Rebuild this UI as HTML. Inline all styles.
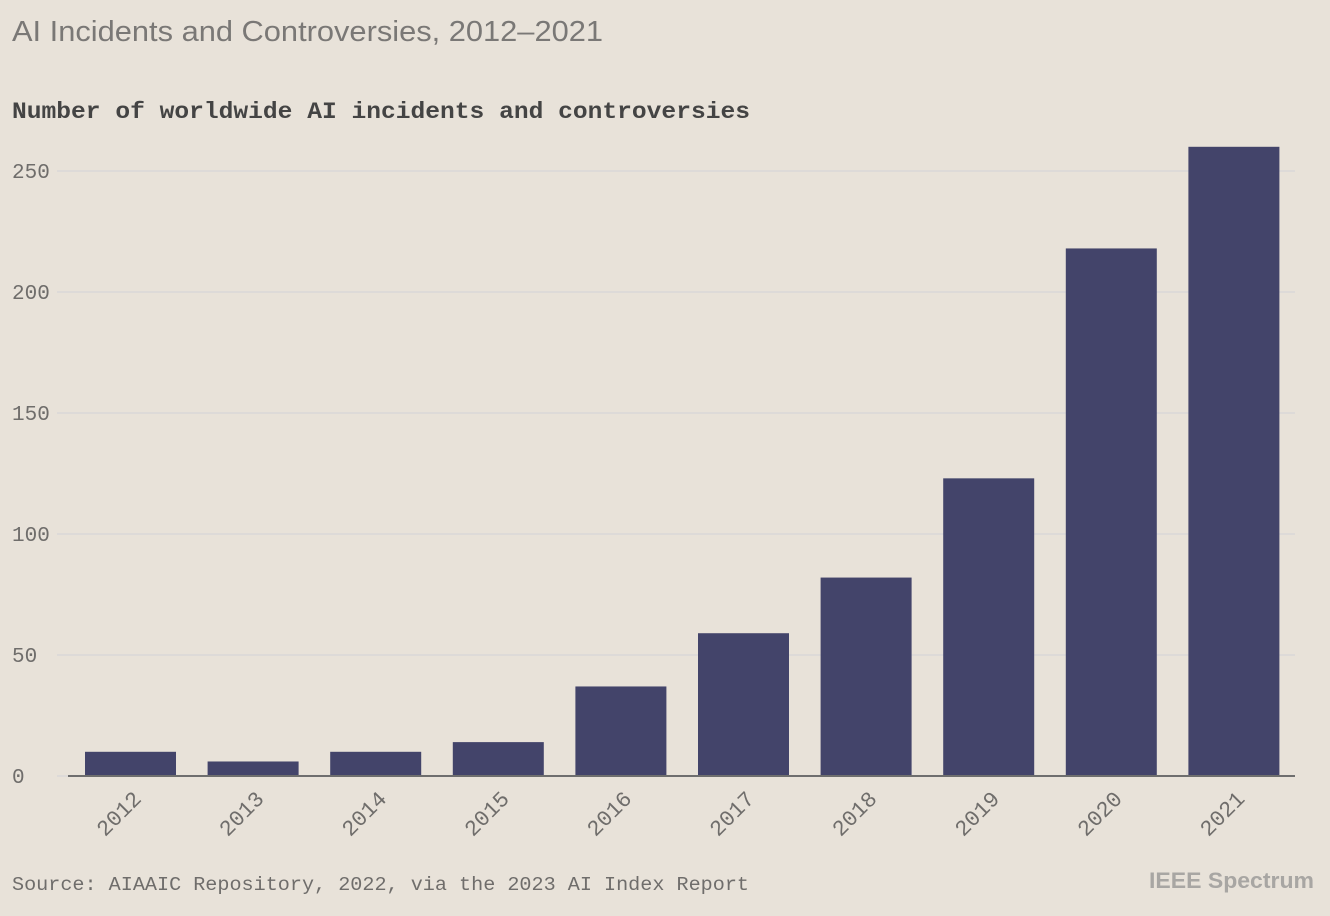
<!DOCTYPE html>
<html><head><meta charset="utf-8">
<style>
html,body{margin:0;padding:0;background:#e8e2d9;}
svg{display:block;}
</style></head>
<body>
<svg id="chart" width="1330" height="916" xmlns="http://www.w3.org/2000/svg">
<rect width="1330" height="916" fill="#e8e2d9"/>
<text x="12" y="41" font-family="Liberation Sans, sans-serif" font-size="29" fill="#7a7876" textLength="591" lengthAdjust="spacingAndGlyphs">AI Incidents and Controversies, 2012–2021</text>
<text x="12" y="118" font-family="Liberation Mono, monospace" font-weight="bold" font-size="23" fill="#444" textLength="738" lengthAdjust="spacingAndGlyphs">Number of worldwide AI incidents and controversies</text>
<g id="grid"></g>
<g id="bars"></g>
<g id="xlabels"></g>
<line x1="68" x2="1295" y1="776" y2="776" stroke="#6e6e6e" stroke-width="2"/>
<text x="12" y="890" font-family="Liberation Mono, monospace" font-size="19.5" fill="#6f6d6b" textLength="737" lengthAdjust="spacingAndGlyphs">Source: AIAAIC Repository, 2022, via the 2023 AI Index Report</text>
<text x="1149" y="888" font-family="Liberation Sans, sans-serif" font-weight="bold" font-size="22" fill="#a8a6a3" textLength="165" lengthAdjust="spacingAndGlyphs">IEEE Spectrum</text>
</svg>
<script>
const categories = ["2012","2013","2014","2015","2016","2017","2018","2019","2020","2021"];
const values = [10,6,10,14,37,59,82,123,218,260];
const yTicks = [0,50,100,150,200,250];

const NS = "http://www.w3.org/2000/svg";
const y0 = 776, pxPerUnit = 605/250;
const x0 = 85, step = 122.6, barW = 91;
function yScale(v){ return y0 - v*pxPerUnit; }
function xScale(i){ return x0 + i*step; }
function mk(tag, attrs){ const e=document.createElementNS(NS,tag); for(const k in attrs) e.setAttribute(k,attrs[k]); return e; }

const grid=document.getElementById('grid');
yTicks.forEach(t=>{
  const y=yScale(t);
  const l=mk('line',{x1:57,x2:1295,y1:y,y2:y,stroke:'#d9d8d8','stroke-width':1.5});
  
  
  grid.appendChild(l);
  const tx=mk('text',{x:12,y:y+7,'font-family':'Liberation Mono, monospace','font-size':21,fill:'#6f6d6b'});
  tx.textContent=t;
  
  
  grid.appendChild(tx);
});

const bars=document.getElementById('bars');
const xl=document.getElementById('xlabels');
categories.forEach((c,i)=>{
  const x=xScale(i), y=yScale(values[i]);
  const r=mk('rect',{x:x,y:y,width:barW,height:y0-y,fill:'#43446a'});
  
  
  bars.appendChild(r);
  const cx=x+barW/2+12, cy=800;
  const t=mk('text',{x:cx,y:cy,'font-family':'Liberation Mono, monospace','font-size':22,fill:'#6f6d6b','text-anchor':'end',transform:`rotate(-45 ${cx} ${cy})`});
  t.textContent=c;
  
  
  xl.appendChild(t);
});
</script>
</body></html>
